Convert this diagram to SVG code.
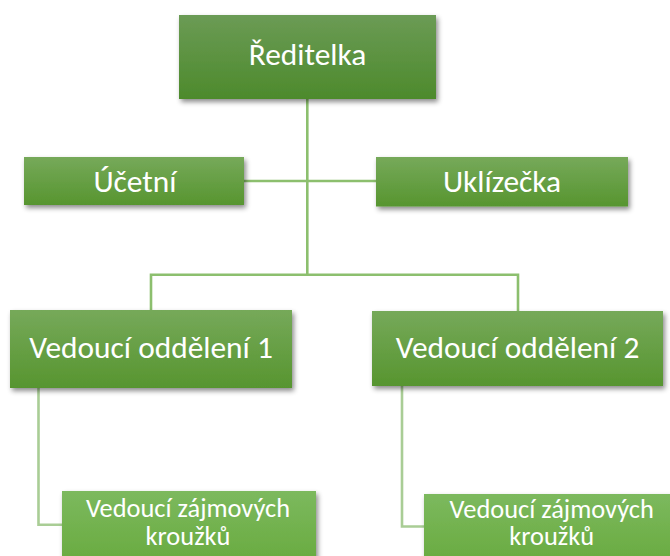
<svg xmlns="http://www.w3.org/2000/svg" width="670" height="556" viewBox="0 0 670 556">
<defs>
<linearGradient id="gTop" x1="0" y1="0" x2="0" y2="1">
<stop offset="0" stop-color="#6b9b55"/>
<stop offset="1" stop-color="#4d8a2c"/>
</linearGradient>
<linearGradient id="gMid" x1="0" y1="0" x2="0" y2="1">
<stop offset="0" stop-color="#76a95a"/>
<stop offset="1" stop-color="#57952f"/>
</linearGradient>
<linearGradient id="gBot" x1="0" y1="0" x2="0" y2="1">
<stop offset="0" stop-color="#7cb95e"/>
<stop offset="1" stop-color="#68aa3e"/>
</linearGradient>
<filter id="sh" x="-10%" y="-20%" width="125%" height="150%">
<feDropShadow dx="2" dy="3" stdDeviation="2.5" flood-color="#000" flood-opacity="0.45"/>
</filter>
</defs>
<style>
.t{font-family:Calibri,Carlito,"Liberation Sans",Arial,sans-serif;fill:#ffffff;text-anchor:middle}
.big{font-size:31.4px}
.small{font-size:26.4px}
.c1{fill:none;stroke:#8cbf6e;stroke-width:2.6}
.c2{fill:none;stroke:#a9cd95;stroke-width:2.6}
</style>
<rect width="670" height="556" fill="#ffffff"/>
<g id="connectors">
<path class="c1" d="M307.3 99 V274.7"/>
<path class="c1" d="M244 181 H376"/>
<path class="c1" d="M151 310 V274.7 H518 V311"/>
<path class="c2" d="M38.5 388 V524.7 H62"/>
<path class="c2" d="M402 386 V526.5 H424"/>
</g>
<g id="reditelka">
<rect x="179" y="15" width="257" height="84" fill="url(#gTop)" filter="url(#sh)"/>
<text class="t big" x="307.5" y="65">Ředitelka</text>
</g>
<g id="ucetni">
<rect x="24" y="157" width="220" height="48" fill="url(#gMid)" filter="url(#sh)"/>
<text class="t big" x="135" y="192">Účetní</text>
</g>
<g id="uklizecka">
<rect x="376" y="157" width="252" height="49.5" fill="url(#gMid)" filter="url(#sh)"/>
<text class="t big" x="502" y="192">Uklízečka</text>
</g>
<g id="vedouci1">
<rect x="10" y="310" width="282" height="78" fill="url(#gMid)" filter="url(#sh)"/>
<text class="t big" x="151" y="358.3">Vedoucí oddělení 1</text>
</g>
<g id="vedouci2">
<rect x="372" y="311" width="291" height="75" fill="url(#gMid)" filter="url(#sh)"/>
<text class="t big" x="517.5" y="358.3">Vedoucí oddělení 2</text>
</g>
<g id="krouzky1">
<rect x="62" y="491" width="254" height="75" fill="url(#gBot)" filter="url(#sh)"/>
<text class="t small" x="188" y="516.7">Vedoucí zájmových</text>
<text class="t small" x="188" y="545">kroužků</text>
</g>
<g id="krouzky2">
<rect x="424" y="494" width="255" height="72" fill="url(#gBot)" filter="url(#sh)"/>
<text class="t small" x="551.7" y="518.3">Vedoucí zájmových</text>
<text class="t small" x="551.7" y="545">kroužků</text>
</g>
</svg>
